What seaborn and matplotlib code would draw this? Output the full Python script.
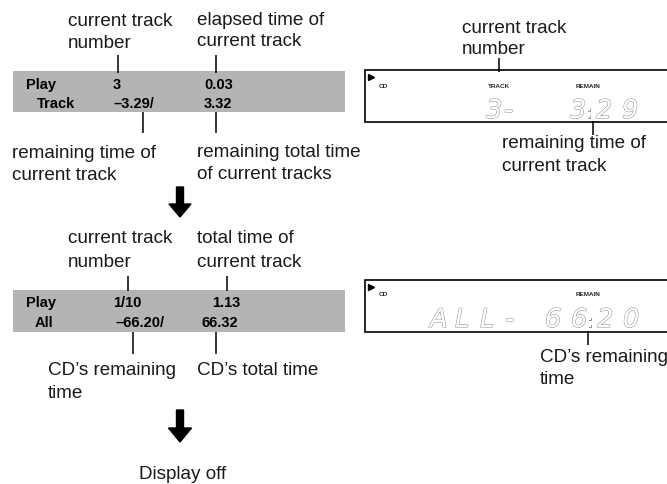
import matplotlib
matplotlib.use("Agg")
import matplotlib.pyplot as plt
import matplotlib.patheffects as pe
from matplotlib.patches import Rectangle, FancyArrow
import seaborn as sns

# --- display readings ---
modes_1 = ["Play", "Track"]
track_col_1 = ["3", "\u20133.29/"]
time_col_1 = ["0.03", "3.32"]
modes_2 = ["Play", "All"]
track_col_2 = ["1/10", "\u201366.20/"]
time_col_2 = ["1.13", "66.32"]
lcd_1 = ["3-", "3:29"]
lcd_2 = ["ALL-", "66:20"]
lcd_tags_1 = ["CD", "TRACK", "REMAIN"]
lcd_tags_2 = ["CD", "REMAIN"]

# --- callout texts ---
top_labels_1 = ["current track\nnumber", "elapsed time of\ncurrent track"]
bottom_labels_1 = ["remaining time of\ncurrent track", "remaining total time\nof current tracks"]
top_labels_2 = ["current track\nnumber", "total time of\ncurrent track"]
bottom_labels_2 = ["CD\u2019s remaining\ntime", "CD\u2019s total time"]
lcd_label_1 = ["current track\nnumber", "remaining time of\ncurrent track"]
lcd_label_2 = "CD\u2019s remaining\ntime"
final_state = "Display off"

sns.set_theme(style="white")
plt.rcParams["font.family"] = ["Liberation Sans", "DejaVu Sans"]

fig = plt.figure(figsize=(6.67, 4.84), dpi=100)
ax = fig.add_axes([0, 0, 1, 1])
ax.set_xlim(0, 667)
ax.set_ylim(484, 0)
ax.axis("off")

LBL = dict(fontsize=13.6, color="#1a1a1a", va="baseline")
BOLD = dict(fontsize=10.5, fontweight="bold", color="black", va="baseline")
LCD_FX = [pe.Stroke(linewidth=0.7, foreground="#8c8c8c"), pe.Normal()]


def label(x, y, s, step=23, **kw):
    # one text per line so the first baseline sits where it should
    for i, line in enumerate(s.split("\n")):
        ax.text(x, y + i * step, line, **{**LBL, **kw})


def tick(x, y0, y1):
    ax.plot([x, x], [y0, y1], color="black", lw=1.1, solid_capstyle="butt")


def gray_bar(y0, y1, modes, tracks, times, mode_x, track_x, time_x, base):
    ax.add_patch(Rectangle((13, y0), 332, y1 - y0, facecolor="#b4b4b4", edgecolor="none"))
    for i in range(2):
        ax.text(mode_x[i], base[i], modes[i], **BOLD)
        ax.text(track_x[i], base[i], tracks[i], **BOLD)
        ax.text(time_x[i], base[i], times[i], **BOLD)


def lcd_box(y0, y1):
    ax.add_patch(Rectangle((365, y0), 320, y1 - y0, facecolor="white",
                           edgecolor="black", lw=1.2))
    ax.plot([371], [y0 + 7], marker=">", ms=4.5, color="black")


def lcd_text(s, x0, y, adv):
    x = x0
    for ch in s:
        if ch == ":":
            ax.text(x - 7, y, ":", fontsize=12, color="white", va="baseline",
                    ha="center", path_effects=LCD_FX)
            continue
        ax.text(x, y, ch, fontsize=18.5, color="white", va="baseline",
                fontstyle="italic", fontfamily=["DejaVu Sans"], path_effects=LCD_FX)
        x += adv


# ---- section 1 ----
label(68, 26, top_labels_1[0], step=22)
label(197, 25, top_labels_1[1], step=21)
tick(118, 55, 73)
tick(216, 55, 73)
gray_bar(71, 112, modes_1, track_col_1, time_col_1,
         [26, 37], [113, 113], [204, 204], [89, 108])
tick(143, 112, 133)
tick(216, 112, 133)
label(12, 158, bottom_labels_1[0], step=22)
label(197, 157, bottom_labels_1[1], step=22)

ax.add_patch(FancyArrow(180, 187, 0, 30, width=7, head_width=22, head_length=13,
                        length_includes_head=True, color="black"))

# ---- section 2 ----
label(68, 243, top_labels_2[0], step=24)
label(197, 243, top_labels_2[1], step=24)
tick(128, 276, 291)
tick(227, 276, 291)
gray_bar(290, 332, modes_2, track_col_2, time_col_2,
         [26, 35], [113, 115], [212, 202], [307, 327])
tick(133, 332, 354)
tick(216, 332, 354)
label(48, 375, bottom_labels_2[0])
label(197, 375, bottom_labels_2[1])

ax.add_patch(FancyArrow(180, 410, 0, 32, width=7, head_width=23, head_length=14,
                        length_includes_head=True, color="black"))
label(183, 479, final_state, ha="center")

# ---- LCD display 1 ----
lcd_box(70, 122)
for tag, tx in zip(lcd_tags_1, [383, 499, 588]):
    ax.text(tx, 86, tag, fontsize=4.6, fontweight="bold", ha="center", va="center")
lcd_text(lcd_1[0], 486, 118, 18)
lcd_text(lcd_1[1], 570, 118, 26)
label(462, 33, lcd_label_1[0], step=21)
tick(499, 58, 72)
tick(593, 121, 135)
label(502, 148, lcd_label_1[1])

# ---- LCD display 2 ----
lcd_box(280, 332)
for tag, tx in zip(lcd_tags_2, [383, 588]):
    ax.text(tx, 295, tag, fontsize=4.6, fontweight="bold", ha="center", va="center")
lcd_text(lcd_2[0], 430, 327, 25)
lcd_text(lcd_2[1], 545, 327, 26)
tick(588, 331, 345)
label(540, 362, lcd_label_2, step=22)

fig.savefig("out.png", dpi=100)
